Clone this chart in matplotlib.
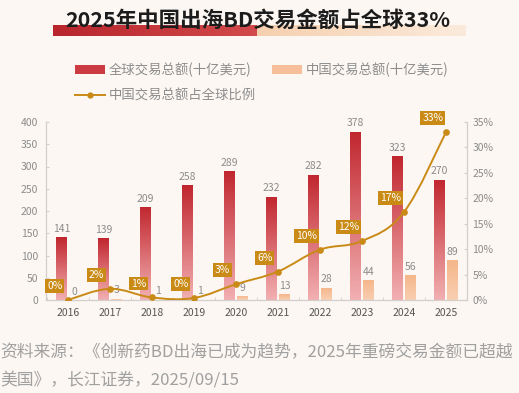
import numpy as np
import matplotlib
matplotlib.use("Agg")
import matplotlib.pyplot as plt
from matplotlib.colors import LinearSegmentedColormap
from matplotlib.patches import Patch, PathPatch
from matplotlib.lines import Line2D
from matplotlib.path import Path

plt.rcParams["font.family"] = ["Noto Sans CJK SC", "DejaVu Sans"]

# data
years = ["2016", "2017", "2018", "2019", "2020", "2021", "2022", "2023", "2024", "2025"]
global_total = [141, 139, 209, 258, 289, 232, 282, 378, 323, 270]
china_total = [0, 3, 1, 1, 9, 13, 28, 44, 56, 89]
china_share = [0.0, 2.2, 0.5, 0.4, 3.1, 5.6, 9.9, 11.6, 17.3, 33.0]
share_labels = ["0%", "2%", "1%", "0%", "3%", "6%", "10%", "12%", "17%", "33%"]

title = "2025年中国出海BD交易金额占全球33%"
legend_labels = ["全球交易总额(十亿美元)", "中国交易总额(十亿美元)", "中国交易总额占全球比例"]
source_lines = ["资料来源：《创新药BD出海已成为趋势，2025年重磅交易金额已超越",
                "美国》，长江证券，2025/09/15"]

BG = "#fcf7f3"
RED_TOP, RED_BOT = "#c1262e", "#f2b0b2"
PEACH_TOP, PEACH_BOT = "#f5b68a", "#f9cfb2"
GOLD = "#c98a16"
GRAY = "#8c8c8c"

W, H = 519, 393
fig = plt.figure(figsize=(W / 100, H / 100), dpi=100, facecolor=BG)

# title decoration (pixel coords)
deco = fig.add_axes([0, 0, 1, 1], zorder=0)
deco.axis("off")
red_cmap = LinearSegmentedColormap.from_list("r", ["#b8262c", "#d24a4c"])
peach_cmap = LinearSegmentedColormap.from_list("p", ["#f6cfae", "#fbeadb"])
hgrad = np.linspace(0, 1, 64).reshape(1, -1)
deco.imshow(hgrad, cmap=peach_cmap, extent=(250, 466, 36, 25), aspect="auto")
deco.imshow(hgrad, cmap=red_cmap, extent=(53, 257, 36, 25), aspect="auto")
deco.set_xlim(0, W)
deco.set_ylim(H, 0)
fig.text(258 / W, 1 - 20 / H, title, ha="center", va="center", fontsize=15.5,
         fontweight="bold", color="#1c1c1c")

# main chart
ax = fig.add_axes([46 / W, 1 - 300 / H, (467 - 46) / W, (300 - 122) / H], zorder=1)
ax.set_facecolor("none")
x = np.arange(len(years))
bw, off = 0.25, 0.155


def gradient_fill(bars, top, bottom):
    cmap = LinearSegmentedColormap.from_list("g", [bottom, top])
    vgrad = np.linspace(0, 1, 128).reshape(-1, 1)
    for rect in bars:
        x0, w, h = rect.get_x(), rect.get_width(), rect.get_height()
        if h <= 0:
            continue
        im = ax.imshow(vgrad, cmap=cmap, origin="lower", aspect="auto",
                       extent=(x0, x0 + w, 0, h), zorder=2)
        im.set_clip_path(rect)


b1 = ax.bar(x - off, global_total, bw, color=RED_BOT, zorder=1)
b2 = ax.bar(x + off, china_total, bw, color=PEACH_BOT, zorder=1)
gradient_fill(b1, RED_TOP, RED_BOT)
gradient_fill(b2, PEACH_TOP, PEACH_BOT)

for bars, vals in ((b1, global_total), (b2, china_total)):
    for rect, v in zip(bars, vals):
        ax.annotate(str(v), (rect.get_x() + rect.get_width() / 2, v),
                    xytext=(0, 2.5), textcoords="offset points",
                    ha="center", va="bottom", fontsize=7.5, color=GRAY)

ax.set_xlim(-0.52, 9.5)
ax.set_ylim(0, 400)
ax.set_yticks(range(0, 401, 50))
ax.set_xticks(x)
ax.set_xticklabels(years)
ax.set_xticks(np.arange(-0.5, 9.6, 1), minor=True)
for s in ("left", "right", "bottom"):
    ax.spines[s].set_color("#d3cfcc")
ax.spines["top"].set_visible(False)
ax.tick_params(axis="y", direction="in", length=2.5, color="#d3cfcc",
               labelsize=7.5, labelcolor=GRAY, pad=5.5)
ax.tick_params(axis="x", which="major", length=0, labelsize=7.5, labelcolor="#555555", pad=6)
ax.tick_params(axis="x", which="minor", direction="in", length=2.5, color="#d3cfcc")

# share line on right axis
ax2 = ax.twinx()
ax2.set_ylim(0, 35)
ax2.set_yticks(range(0, 36, 5))
ax2.set_yticklabels([f"{v}%" for v in range(0, 36, 5)])
for s in ("left", "right", "bottom"):
    ax2.spines[s].set_color("#d3cfcc")
ax2.spines["top"].set_visible(False)
ax2.tick_params(axis="y", direction="in", length=2.5, color="#d3cfcc",
                labelsize=7.5, labelcolor=GRAY, pad=4)

pts = np.column_stack([x, china_share]).astype(float)
t = 0.18
verts, codes = [pts[0]], [Path.MOVETO]
for i in range(len(pts) - 1):
    p_prev = pts[max(i - 1, 0)]
    p0, p1 = pts[i], pts[i + 1]
    p_next = pts[min(i + 2, len(pts) - 1)]
    verts += [p0 + (p1 - p_prev) * t, p1 - (p_next - p0) * t, p1]
    codes += [Path.CURVE4] * 3
ax2.add_patch(PathPatch(Path(verts, codes), fc="none", ec=GOLD, lw=1.4, zorder=3))
ax2.plot(x, china_share, "o", color=GOLD, ms=3.8, zorder=4)

for xi, v, lab in zip(x, china_share, share_labels):
    ax2.annotate(lab, (xi, v), xytext=(-9.5, 10), textcoords="offset points",
                 ha="center", va="center", fontsize=7.5, color="white", zorder=5,
                 bbox=dict(boxstyle="square,pad=0.18", fc=GOLD, ec="none"))

# legend
handles = [Patch(fc="#cc3a42"), Line2D([], [], color=GOLD, marker="o", ms=3.5, lw=1.4),
           Patch(fc="#f7bf99")]
fig.legend(handles, [legend_labels[0], legend_labels[2], legend_labels[1]], ncol=2,
           loc="upper left", bbox_to_anchor=(75 / W, 1 - 63 / H), frameon=False,
           fontsize=9.6, labelcolor=GRAY, handlelength=2.25, handleheight=0.65,
           handletextpad=0.3, columnspacing=1.2, labelspacing=0.85, borderpad=0,
           borderaxespad=0)

for i, line in enumerate(source_lines):
    fig.text(0, 1 - (353 + 27 * i) / H, line, ha="left", va="center",
             fontsize=12.1, color="#a0a0a0")

fig.savefig("out.png", dpi=100, facecolor=BG)
